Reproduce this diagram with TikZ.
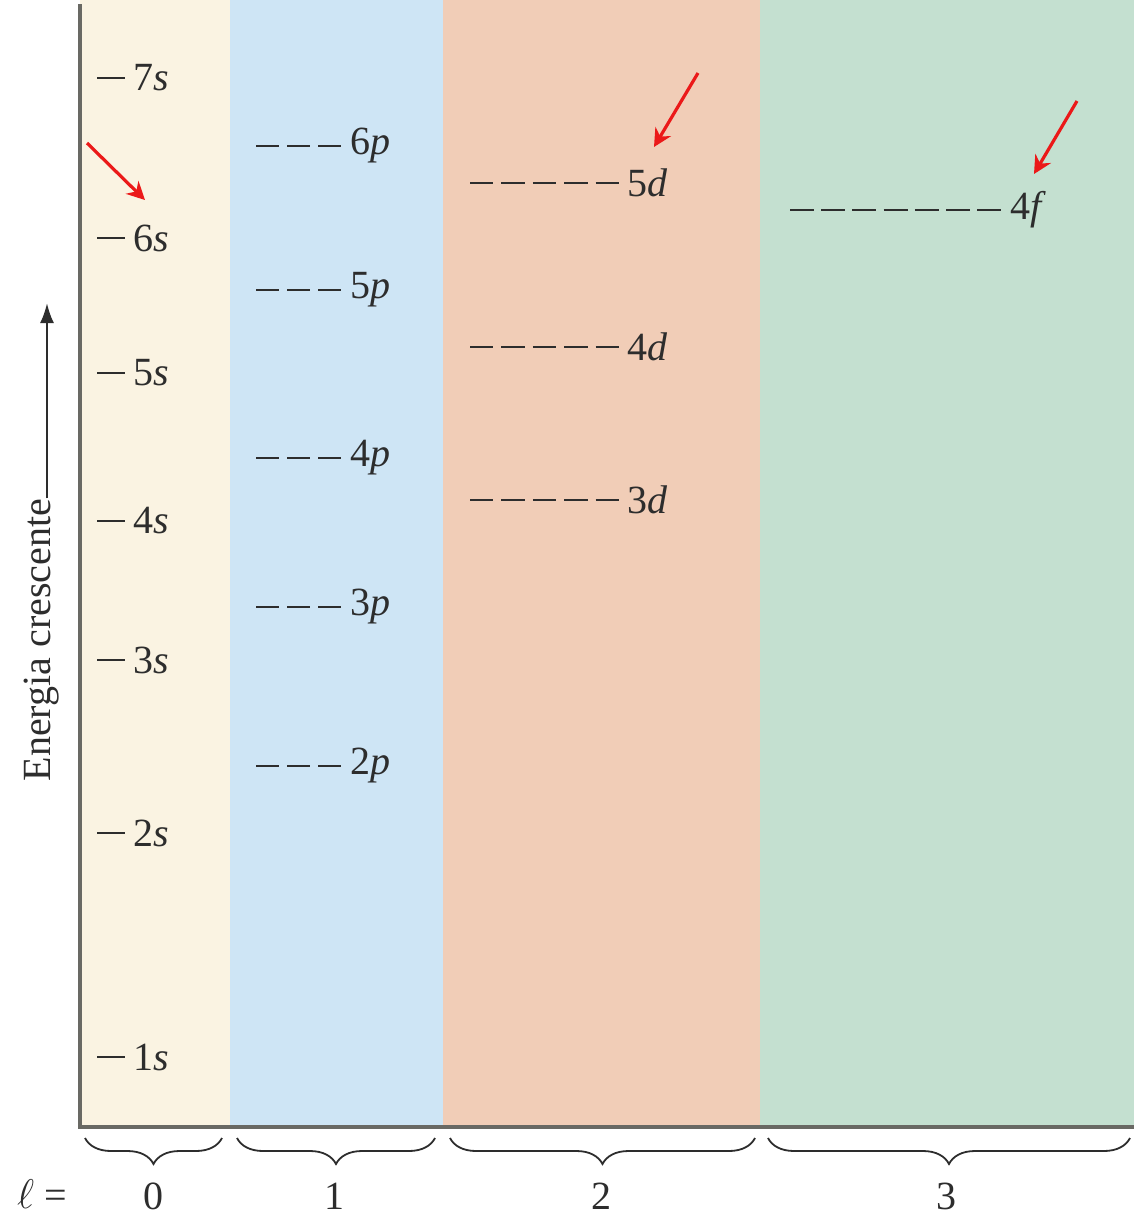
\documentclass[tikz,border=0pt]{standalone}
\usepackage{fontspec}
\setmainfont{Liberation Serif}
\usetikzlibrary{decorations.pathreplacing,arrows.meta}
\definecolor{colS}{RGB}{250,243,226}
\definecolor{colP}{RGB}{206,229,245}
\definecolor{colD}{RGB}{241,205,183}
\definecolor{colF}{RGB}{196,224,208}
\definecolor{axisc}{RGB}{105,105,100}
\definecolor{txtc}{RGB}{45,45,45}
\definecolor{arr}{RGB}{235,25,25}
\begin{document}
\begin{tikzpicture}[x=0.5pt,y=-0.5pt,
  lvl/.style={font=\fontsize{20}{24}\selectfont, text=txtc, anchor=west, inner sep=0pt},
  tick/.style={draw=txtc, line width=1.4pt, shorten >=4pt},
  dashA/.style={draw=txtc, line width=1.4pt, shorten >=4pt},
  redarr/.style={draw=arr, line width=1.6pt, -{Stealth[length=9pt,width=9pt]}},
  lbl/.style={font=\fontsize{20}{24}\selectfont, text=txtc, inner sep=0pt},
  brc/.style={draw=txtc, line width=0.9pt, decorate, decoration={brace, mirror, amplitude=13pt}}]
\useasboundingbox (0,0) rectangle (1134,1217);
% columns
\fill[colS] (80,0) rectangle (230,1127);
\fill[colP] (230,0) rectangle (443,1127);
\fill[colD] (443,0) rectangle (760,1127);
\fill[colF] (760,0) rectangle (1134,1127);
% axes
\draw[axisc, line width=1.7pt] (80,4) -- (80,1127) -- (1134,1127);
% s levels
\foreach \n/\y in {7/78,6/238,5/373,4/521,3/660,2/833,1/1057}{
  \node[lvl] (s\n) at (133,\y) {\n\textit{s}};
  \draw[tick] (97,\y) -- (s\n.west);
}
% p levels
\foreach \n/\y in {6/146,5/290,4/458,3/607,2/766}{
  \node[lvl] (p\n) at (350,\y) {\n\textit{p}};
  \draw[dashA, dash pattern=on 11.5pt off 4pt] (256,\y) -- (p\n.west);
}
% d levels
\foreach \n/\y in {5/183,4/347,3/500}{
  \node[lvl] (d\n) at (627,\y) {\n\textit{d}};
  \draw[dashA, dash pattern=on 11.7pt off 4pt] (470,\y) -- (d\n.west);
}
% f level
\node[lvl] (f4) at (1010,210) {4\textit{f}};
\draw[dashA, dash pattern=on 12pt off 3.6pt] (790,210) -- (f4.west);
% red arrows
\coordinate (r1s) at (87,143); \coordinate (r1e) at (145,200);
\coordinate (r2s) at (698,73); \coordinate (r2e) at (654,147);
\coordinate (r3s) at (1077,101); \coordinate (r3e) at (1034,174);
\draw[redarr] (r1s) -- (r1e);
\draw[redarr] (r2s) -- (r2e);
\draw[redarr] (r3s) -- (r3e);
% energy axis label
\node[lbl, rotate=90] (en) at (42,640) {Energia crescente};
\coordinate (entip) at (47,303);
\draw[txtc, line width=1.2pt, -{Latex[length=10pt,width=7pt]}] (en.east -| entip) -- (entip);
% braces
\draw[brc] (85,1138) -- (222,1138);
\draw[brc] (237,1138) -- (435,1138);
\draw[brc] (450,1138) -- (755,1138);
\draw[brc] (768,1138) -- (1130,1138);
\node[lbl] (l0) at (153,1196) {0};
\node[lbl] (l1) at (334,1196) {1};
\node[lbl] (l2) at (601,1196) {2};
\node[lbl] (l3) at (946,1196) {3};
\node[lbl] (ell) at (42,1194) {$\ell$ =};
\end{tikzpicture}
\end{document}
